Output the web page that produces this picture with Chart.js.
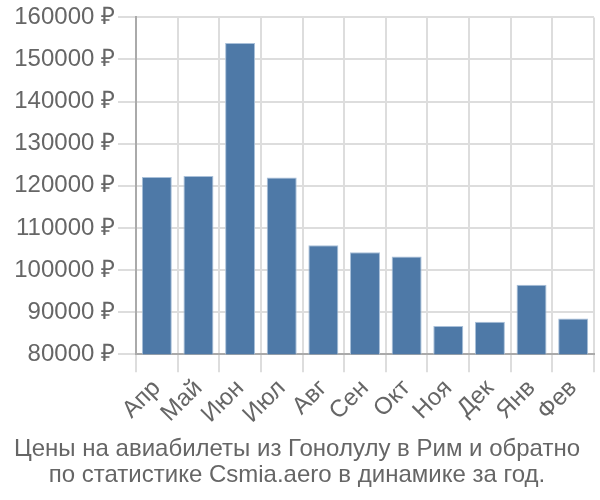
<!DOCTYPE html>
<html>
<head>
<meta charset="utf-8">
<script src="https://cdn.jsdelivr.net/npm/chart.js@4/dist/chart.umd.min.js"></script>
<style>
html,body{margin:0;padding:0;background:#fff;}
#wrap{width:600px;height:500px;position:relative;}
</style>
</head>
<body>
<div id="wrap"><canvas id="c" width="600" height="500"></canvas></div>
<script>
const categories = ["Апр","Май","Июн","Июл","Авг","Сен","Окт","Ноя","Дек","Янв","Фев"];
const prices = [122100,122300,153900,122000,105900,104200,103200,86700,87700,96500,88500];
const yTicks = [80000,90000,100000,110000,120000,130000,140000,150000,160000];
const titleLines = ["Цены на авиабилеты из Гонолулу в Рим и обратно","по статистике Csmia.aero в динамике за год."];

const FONT = "'Liberation Sans', Arial, sans-serif";
new Chart(document.getElementById('c'), {
  type: 'bar',
  data: {
    labels: categories,
    datasets: [{
      data: prices,
      backgroundColor: '#4e79a7',
      borderColor: '#a9c0d9',
      borderWidth: 1,
      barPercentage: 0.9,
      categoryPercentage: 0.8
    }]
  },
  options: {
    responsive: false,
    animation: false,
    layout: {padding: {left: 0, right: 6, top: 14, bottom: 4}},
    plugins: {
      legend: {display: false},
      tooltip: {enabled: false},
      title: {
        display: true,
        position: 'bottom',
        text: titleLines,
        color: '#666',
        font: {family: FONT, size: 24, weight: 'normal', lineHeight: 1.1},
        padding: {top: 6, bottom: 7}
      }
    },
    scales: {
      x: {
        afterFit: (axis) => { axis.height = 76; },
        grid: {color: '#dddddd', lineWidth: 2, offset: true, tickLength: 18, drawTicks: true},
        border: {color: '#aaaaaa', width: 2},
        ticks: {color: '#666', font: {family: FONT, size: 24}, maxRotation: 45, minRotation: 45, padding: 2, autoSkip: false}
      },
      y: {
        min: 80000,
        max: 160000,
        afterFit: (axis) => { axis.width = 136; },
        afterBuildTicks: (axis) => { axis.ticks = yTicks.map(v => ({value: v})); },
        grid: {color: '#dddddd', lineWidth: 2, tickLength: 18},
        border: {color: '#aaaaaa', width: 2},
        ticks: {color: '#666', font: {family: FONT, size: 24}, padding: 3,
          callback: (v) => v + ' ₽'}
      }
    }
  }
});
</script>
</body>
</html>
